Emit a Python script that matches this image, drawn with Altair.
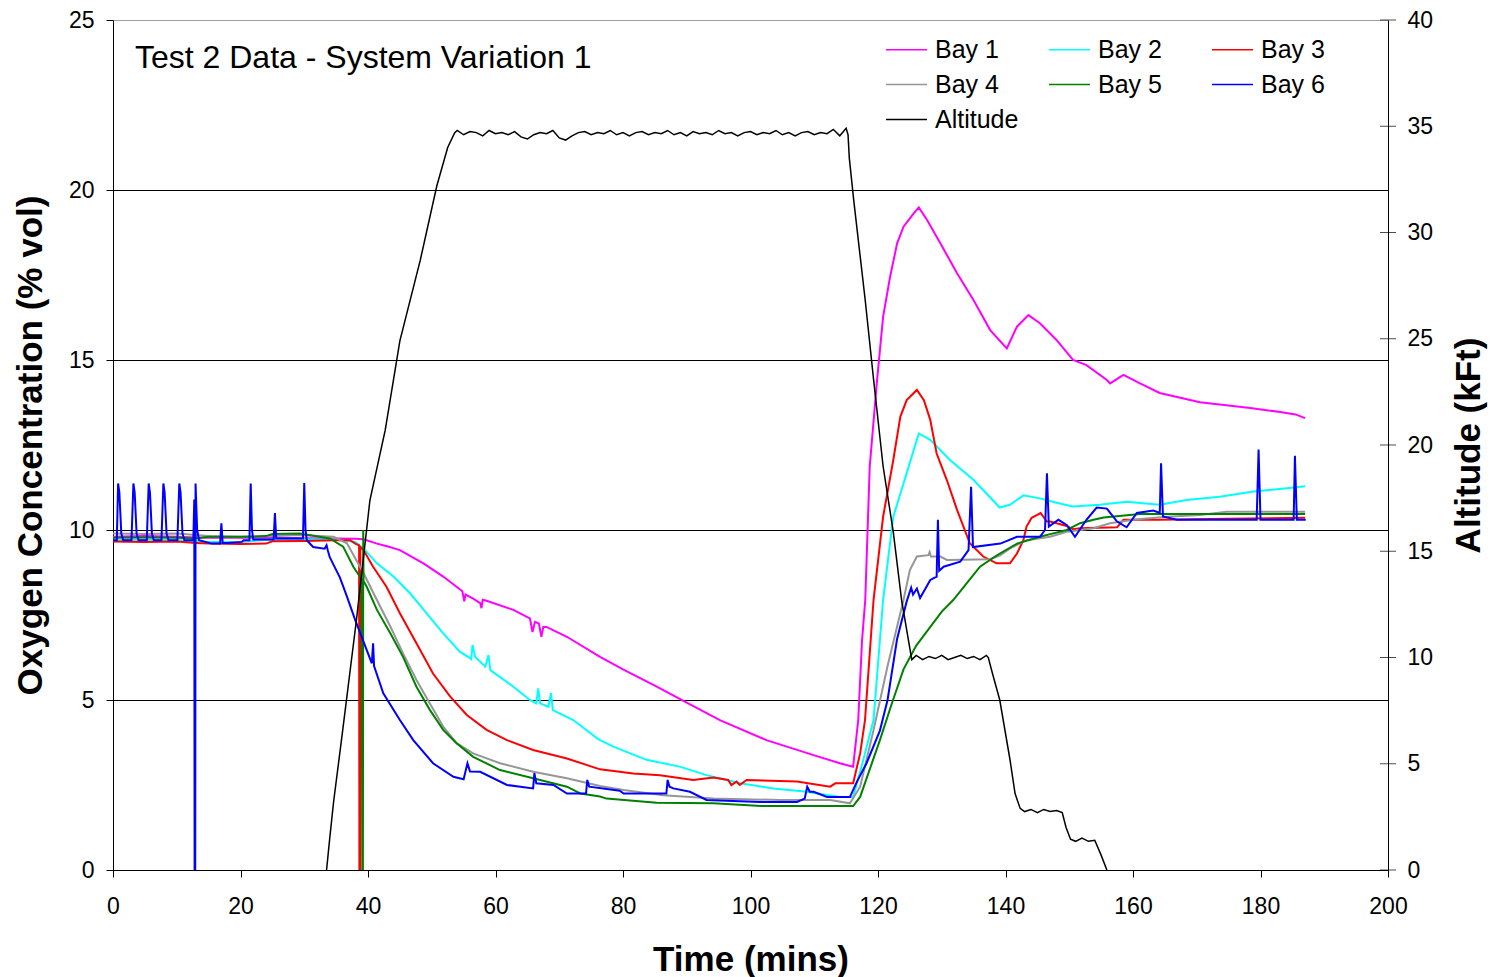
import altair as alt
import pandas as pd

# ---------------- data ----------------
series_names = ["Bay 1", "Bay 2", "Bay 3", "Bay 4", "Bay 5", "Bay 6", "Altitude"]
series_colors = ["#FF00FF", "#00FFFF", "#FF0000", "#969696", "#008000", "#0000FF", "#000000"]

bay1_t = [0, 5, 10, 13, 15, 20, 25, 30, 35, 38, 39.3, 41.4, 43, 45, 48.7, 51.8, 54.8, 55.1, 55.3, 56.5,
          57.6, 57.8, 58.0, 58.6, 62.8, 65.4, 65.8, 66.2, 66.8, 67.2, 67.5, 68, 71.2, 76.4, 80, 85, 90,
          95.2, 102.5, 109.9, 114, 116.1, 116.9, 117.5, 118, 118.7, 119.8, 120.8, 121.9, 123, 124, 125.6,
          126.4, 127.7, 129.8, 132.4, 135, 137.6, 140.2, 141.8, 143.6, 145.4, 148, 150.6, 152.7, 155.9,
          156.4, 158.5, 161.1, 164.2, 170.5, 178.4, 183.1, 185.5, 187]
bay1_v = [9.8, 9.82, 9.8, 9.78, 9.77, 9.77, 9.78, 9.76, 9.75, 9.74, 9.73, 9.6, 9.52, 9.41, 9.02, 8.63, 8.2, 7.9, 8.1, 7.98,
          7.85, 7.7, 7.95, 7.92, 7.65, 7.4, 7.0, 7.3, 7.25, 6.86, 7.15, 7.15, 6.86, 6.27, 5.9, 5.42, 4.92,
          4.41, 3.82, 3.38, 3.14, 3.04, 4.41, 6.76, 7.94, 11.86, 14.3, 16.27, 17.45, 18.43, 18.92, 19.31,
          19.49, 19.12, 18.43, 17.55, 16.76, 15.88, 15.34, 15.98, 16.32, 16.08, 15.59, 15.0, 14.85, 14.41,
          14.31, 14.56, 14.31, 14.03, 13.76, 13.59, 13.47, 13.4, 13.29]

bay2_t = [0, 5, 10, 13, 15, 20, 22, 25, 30, 35, 38, 39.3, 41.4, 44, 46.6, 49.2, 51.8, 54.4, 55.7, 56.2,
          56.4, 56.8, 58.4, 58.9, 59.2, 62.8, 65.4, 66.4, 66.7, 67.0, 68.3, 68.7, 69.0, 72.2, 76.1, 78.5,
          83.7, 88.9, 93.1, 98.4, 103.6, 108.8, 114, 116.1, 117.7, 119.3, 120.8, 122.4, 124, 125.6, 126.4,
          128.2, 131.3, 135, 139.1, 140.7, 142.8, 145.4, 148, 150.6, 154.8, 159, 164.2, 168.4, 173.6,
          178.9, 184.1, 187]
bay2_v = [9.7, 9.72, 9.7, 9.68, 9.65, 9.65, 9.68, 9.72, 9.73, 9.72, 9.65, 9.46, 9.02, 8.63, 8.14, 7.55, 6.96, 6.42, 6.27, 6.2,
          6.62, 6.27, 5.98, 6.32, 5.88, 5.39, 5.0, 4.9, 5.34, 4.9, 4.8, 5.2, 4.7, 4.41, 3.85, 3.63,
          3.24, 3.04, 2.79, 2.55, 2.4, 2.3, 2.15, 2.15, 3.24, 4.41, 7.94, 10.39, 11.37, 12.35, 12.84,
          12.65, 12.06, 11.47, 10.66, 10.74, 11.02, 10.93, 10.8, 10.69, 10.74, 10.83, 10.74, 10.88, 10.98,
          11.13, 11.23, 11.29]

bay3_t = [0, 5, 10, 13, 15, 20, 24, 25, 30, 35, 37.2, 38.0, 38.6, 38.65, 38.75, 38.8, 39.3, 40.8, 42.9,
          45, 47.6, 50.2, 52.9, 55.5, 58.6, 61.8, 65.9, 71.2, 76.4, 81.6, 85.8, 91, 94.2, 96.5, 97, 97.8,
          98.3, 99.4, 107.3, 112.5, 113.3, 116.1, 117.2, 117.96, 119.3, 120.8, 122.4, 123.5, 124.5, 126.1,
          127.2, 128.2, 129.2, 130.8, 132.4, 134.4, 136.5, 138.6, 140.7, 141.8, 142.8, 143.3, 144.1, 144.9,
          145.5, 146.5, 147, 149.6, 150.6, 151.7, 157.5, 158.5, 164.2, 175, 187]
bay3_v = [9.66, 9.65, 9.66, 9.62, 9.6, 9.59, 9.6, 9.67, 9.68, 9.7, 9.7, 9.6, 9.55, 0, 0, 9.5, 9.41, 8.92, 8.33,
          7.55, 6.67, 5.78, 5.1, 4.56, 4.12, 3.82, 3.53, 3.28, 2.96, 2.84, 2.79, 2.65, 2.72, 2.65, 2.5, 2.6,
          2.5, 2.65, 2.6, 2.45, 2.55, 2.55, 3.43, 4.41, 7.94, 10.39, 12.06, 13.33, 13.82, 14.12,
          13.82, 13.24, 12.25, 11.47, 10.59, 9.61, 9.22, 9.02, 9.02, 9.31, 9.7, 10.1, 10.36, 10.44,
          10.5, 10.25, 10.25, 10.12, 10.02, 10.05, 10.08, 10.3, 10.3, 10.33, 10.36]

bay4_t = [0, 5, 10, 13, 15, 20, 25, 29.3, 34.6, 36.7, 38, 39.3, 41.4, 43.5, 45.5, 47.6, 49.7, 51.8, 53.9,
          56.5, 60.7, 65.9, 71.2, 76.4, 80.1, 86.3, 94.2, 104.6, 112.5, 115.6, 117.2, 119.3, 121.5, 124,
          125, 126.1, 127.9, 128.1, 128.3, 129.8, 130.8, 137.6, 139.1, 140.7, 143.3, 147, 149.6, 153.8,
          156.4, 160, 165.3, 170.5, 174.7, 187]
bay4_v = [9.9, 9.88, 9.9, 9.85, 9.82, 9.8, 9.82, 9.85, 9.8, 9.61, 9.17, 8.73, 7.94, 7.16, 6.37, 5.59, 4.9, 4.22, 3.73,
          3.43, 3.14, 2.89, 2.7, 2.47, 2.35, 2.2, 2.1, 2.06, 2.06, 1.96, 2.45, 4.12, 6.0, 7.94,
          8.82, 9.22, 9.26, 9.35, 9.22, 9.22, 9.12, 9.14, 9.25, 9.46, 9.7, 9.8, 9.95, 10.05,
          10.2, 10.3, 10.39, 10.44, 10.54, 10.54]

bay5_t = [0, 5, 10, 13, 15, 20, 24, 25, 29.3, 34, 36.1, 37.7, 39.0, 39.1, 39.2, 39.25, 39.3, 39.8, 41.4,
          43.5, 45.5, 47.6, 49.7, 51.8, 53.9, 56.5, 60.7, 65.9, 71.2, 73.3, 76.4, 77.4, 85.3, 94.2, 101.7,
          116.1, 117.2, 120.3, 122, 124, 126, 128, 130, 131.8, 133.9, 136, 138.6, 141.8, 145.4, 147.5,
          149.6, 151.7, 153.8, 155.4, 161.1, 187]
bay5_v = [9.77, 9.78, 9.77, 9.75, 9.8, 9.8, 9.82, 9.88, 9.9, 9.75, 9.51, 8.92, 8.55, 0, 0, 10.0, 8.5, 8.33, 7.65,
          6.96, 6.27, 5.39, 4.71, 4.12, 3.73, 3.33, 2.94, 2.7, 2.45, 2.25, 2.16, 2.1, 1.98, 1.96, 1.88,
          1.88, 2.15, 3.82, 4.8, 5.9, 6.6, 7.1, 7.6, 7.94, 8.43, 8.92, 9.25, 9.6, 9.8, 9.9,
          10.0, 10.2, 10.3, 10.37, 10.47, 10.47]

bay6_t = [0, 0.6, 0.8, 1.0, 1.3, 1.6, 2.9, 3.2, 3.4, 3.7, 4.0, 5.3, 5.6, 5.8, 6.1, 6.4, 7.6, 7.9, 8.1, 8.4,
          8.7, 10.1, 10.4, 10.6, 10.9, 11.2, 12.6, 12.75, 12.8, 12.9, 12.95, 13.2, 13.5, 14.5, 15.5, 16.8,
          17.0, 17.2, 18, 20.2, 20.5, 21.4, 21.6, 21.8, 22, 25.2, 25.4, 25.6, 29.8, 30.0, 30.2, 30.4, 31.4,
          33.2, 33.5, 33.7, 34, 35.6, 36.7, 38, 40.6, 40.8, 40.95, 42.4, 45, 47.1, 50.2, 53.4, 55, 55.6, 56,
          57.6, 61.8, 65.9, 66.1, 66.4, 69.1, 71.2, 74.2, 74.4, 74.7, 79.5, 80.1, 86.8, 87.0, 87.3, 87.9,
          90.5, 93.1, 101.5, 107.3, 108.5, 108.9, 109.3, 109.9, 112, 115.6, 116.7, 118.2, 120.3, 121.5,
          123, 124.5, 125.2, 125.5, 126.1, 126.6, 128.2, 129.2, 129.4, 129.6, 130.3, 132.9, 134.2, 134.6,
          134.9, 139.2, 141.8, 145.4, 146.2, 146.5, 146.8, 148.3, 149.6, 150.9, 152.7, 154.3, 155.9, 157.5,
          159, 160.6, 163.2, 164.2, 164.4, 164.7, 166.9, 179.4, 179.7, 180.0, 185.2, 185.4, 185.7, 187.1]
bay6_v = [9.7, 9.7, 11.37, 11.1, 9.9, 9.7, 9.7, 11.37, 11.1, 9.9, 9.7, 9.7, 11.37, 11.1, 9.9, 9.7, 9.7, 11.37, 11.1, 9.9,
          9.7, 9.7, 11.37, 11.1, 9.9, 9.7, 9.7, 10.9, 0, 0, 11.37, 10.0, 9.7, 9.65, 9.6, 9.6,
          10.2, 9.62, 9.62, 9.65, 9.7, 9.7, 11.37, 10.0, 9.72, 9.72, 10.5, 9.75, 9.75, 11.38, 10.0, 9.7, 9.5,
          9.45, 9.55, 9.4, 9.2, 8.6, 8.04, 7.35, 6.08, 6.67, 6.0, 5.2, 4.41, 3.82, 3.14, 2.74, 2.67, 3.14, 2.9,
          2.89, 2.5, 2.4, 2.85, 2.55, 2.5, 2.25, 2.25, 2.65, 2.45, 2.33, 2.25, 2.25, 2.65, 2.45, 2.4,
          2.3, 2.06, 2.0, 2.0, 2.1, 2.45, 2.3, 2.3, 2.15, 2.15, 2.6, 3.14, 4.1, 5.0,
          6.8, 7.9, 8.3, 8.1, 8.28, 8.0, 8.53, 8.63, 10.3, 8.8, 8.92, 9.07, 9.41, 11.27,
          9.5, 9.6, 9.8, 9.8, 10.0, 11.67, 10.1, 10.3, 10.15, 9.8, 10.3, 10.66, 10.63, 10.25,
          10.08, 10.5, 10.57, 10.5, 11.96, 10.4, 10.3, 10.3, 12.37, 10.3, 10.3, 12.18, 10.3, 10.3]

alt_t = [33.5, 34.0, 34.6, 36, 38.2, 40.3, 42.7, 45, 48.2, 50.8, 52.5, 53.6,
         54, 55, 56, 57, 58, 59, 60, 61, 62, 63, 64, 65, 66, 67, 68, 69, 70, 71, 72, 73, 74, 75, 76, 77,
         78, 79, 80, 81, 82, 83, 84, 85, 86, 87, 88, 89, 90, 91, 92, 93, 94, 95, 96, 97, 98, 99, 100, 101,
         102, 103, 104, 105, 106, 107, 108, 109, 110, 111, 112, 113, 114, 115, 115.3,
         115.5, 116.2, 118, 119.3, 120.8, 122.4, 123.7, 125.3, 126, 127, 128, 129, 130, 131, 132, 133, 134,
         135, 136, 137, 137.3, 138, 139.1, 140.7, 141.5, 142.3, 143, 144, 145, 146, 147, 148, 148.9, 149.5,
         150.2, 151, 152, 153, 154, 155, 155.9]
alt_v = [0, 1.5, 3.2, 6.5, 11.8, 17.4, 20.7, 24.9, 28.7, 32.2, 34.0, 34.7,
         34.8, 34.6, 34.75, 34.7, 34.55, 34.8, 34.65, 34.7, 34.6, 34.75, 34.5, 34.4, 34.6, 34.7, 34.65, 34.8,
         34.45, 34.35, 34.55, 34.7, 34.75, 34.6, 34.7, 34.65, 34.8, 34.6, 34.7, 34.55, 34.7, 34.75, 34.6,
         34.7, 34.65, 34.8, 34.6, 34.7, 34.55, 34.75, 34.65, 34.7, 34.6, 34.8, 34.65, 34.7, 34.55, 34.7,
         34.75, 34.6, 34.7, 34.65, 34.8, 34.6, 34.7, 34.55, 34.7, 34.75, 34.6, 34.7, 34.65, 34.85, 34.55,
         34.9, 34.6,
         33.5, 31.5, 26.8, 23.1, 19.0, 15.9, 12.7, 9.9, 10.1, 9.9, 10.05, 9.95, 10.1, 9.9, 10.0, 10.1, 9.95,
         10.05, 9.9, 10.1, 10.0, 9.2, 8.0, 5.2, 3.6, 2.9, 2.75, 2.85, 2.7, 2.85, 2.75, 2.8, 2.7, 2.0,
         1.45, 1.35, 1.5, 1.35, 1.4, 0.7, 0.0]

note_text = ["Test 2 Data - System Variation 1"]
note_x = [3.45]
note_y = [23.58]

x_ticks = list(range(0, 201, 20))
y_left_ticks = [0, 5, 10, 15, 20, 25]
y_right_ticks = [0, 5, 10, 15, 20, 25, 30, 35, 40]

# ---------------- tables ----------------
bay_series = [("Bay 1", bay1_t, bay1_v), ("Bay 2", bay2_t, bay2_v), ("Bay 3", bay3_t, bay3_v),
              ("Bay 4", bay4_t, bay4_v), ("Bay 5", bay5_t, bay5_v), ("Bay 6", bay6_t, bay6_v)]
rows = []
for name, ts, vs in bay_series:
    for t, v in zip(ts, vs):
        rows.append({"series": name, "t": t, "v": v})
bays_df = pd.DataFrame(rows)
alt_df = pd.DataFrame({"series": "Altitude", "t": alt_t, "alt": alt_v})
note_df = pd.DataFrame({"label": note_text, "t": note_x, "v": note_y})
rtick_df = pd.DataFrame({"t": [200] * len(y_right_ticks), "alt": y_right_ticks})

FONT = "Liberation Sans"

color_enc = alt.Color(
    "series:N",
    scale=alt.Scale(domain=series_names, range=series_colors),
    legend=alt.Legend(
        title=None, orient="none", legendX=772, legendY=8, columns=3, direction="horizontal",
        gridAlign="all", columnPadding=27, rowPadding=-4, symbolType="stroke", symbolSize=1681,
        symbolStrokeWidth=1.5, labelOffset=7, labelFontSize=25, labelFont=FONT,
        labelColor="black", padding=0, labelLimit=300,
    ),
)

x_enc = alt.X(
    "t:Q",
    scale=alt.Scale(domain=[0, 200], nice=False, zero=False),
    axis=alt.Axis(
        values=x_ticks, title="Time (mins)", tickSize=7, labelPadding=18, titlePadding=24,
        grid=False, labelFlush=False,
    ),
)

bays = alt.Chart(bays_df).mark_line(strokeWidth=2, clip=True).encode(
    x=x_enc,
    y=alt.Y(
        "v:Q",
        scale=alt.Scale(domain=[0, 25], nice=False),
        axis=alt.Axis(
            values=y_left_ticks, title="Oxygen Concentration (% vol)", tickSize=7, labelPadding=12,
            titlePadding=20, grid=True, labelFlush=False,
            gridColor=alt.condition("datum.value == 25", alt.value("#a0a0a0"), alt.value("black")),
            gridWidth=1,
        ),
    ),
    color=color_enc,
    order=alt.Order("t:Q"),
)

note = alt.Chart(note_df).mark_text(
    align="left", baseline="alphabetic", fontSize=32, font=FONT, color="black"
).encode(x=alt.X("t:Q"), y=alt.Y("v:Q"), text="label:N")

altitude = alt.Chart(alt_df).mark_line(strokeWidth=1.5, clip=True).encode(
    x=alt.X("t:Q"),
    y=alt.Y(
        "alt:Q",
        scale=alt.Scale(domain=[0, 40], nice=False),
        axis=alt.Axis(
            values=y_right_ticks, title="Altitude (kFt)", orient="right", ticks=False,
            labelPadding=19, titlePadding=19, titleAngle=270, titleBaseline="top", grid=False,
            labelFlush=False,
        ),
    ),
    color=color_enc,
)

# right-axis tick marks that cross the axis line, as in the reference
rticks = alt.Chart(rtick_df).mark_tick(
    orient="horizontal", size=16, thickness=1, color="black", clip=False
).encode(x=alt.X("t:Q"), y=alt.Y("alt:Q"))

left = alt.layer(bays, note)
right = alt.layer(altitude, rticks)
chart = (
    alt.layer(left, right)
    .resolve_scale(y="independent")
    .properties(
        width=1275, height=850,
        padding={"left": 105, "top": 12, "right": 100, "bottom": 107},
        autosize=alt.AutoSizeParams(type="none"),
        background="white",
    )
    .configure_view(stroke=None)
    .configure_axis(
        labelFont=FONT, labelFontSize=23, labelColor="black", titleFont=FONT, titleFontSize=35,
        titleFontWeight="bold", titleColor="black", domainColor="black", domainWidth=1,
        tickColor="black", tickWidth=1,
    )
)

chart.save("out.html", embed_options={"renderer": "svg", "actions": False})
